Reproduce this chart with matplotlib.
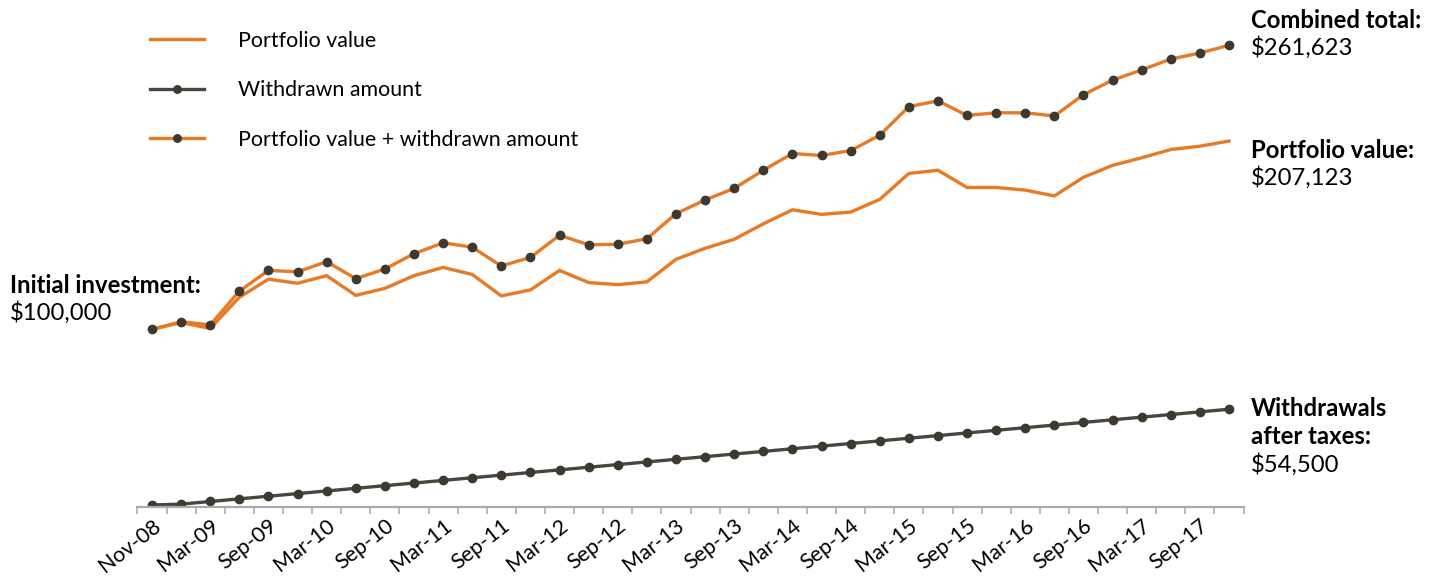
import matplotlib
matplotlib.use("Agg")
from matplotlib import pyplot as plt
import numpy as np

# quarterly observations, Nov-08 .. Feb-18
tick_labels = ["Nov-08", "Mar-09", "Sep-09", "Mar-10", "Sep-10", "Mar-11", "Sep-11",
               "Mar-12", "Sep-12", "Mar-13", "Sep-13", "Mar-14", "Sep-14", "Mar-15",
               "Sep-15", "Mar-16", "Sep-16", "Mar-17", "Sep-17"]

portfolio = [100000, 103800, 100500, 118200, 128500, 126200, 130500, 119300, 123300, 130500,
             135200, 131200, 119000, 122400, 133500, 126600, 125400, 127000, 139800, 146100,
             151200, 160000, 168000, 165400, 166700, 173900, 188700, 190500, 180700, 180700,
             179200, 175900, 186500, 193300, 197600, 202300, 204200, 207123]

withdrawn = [0, 500, 2000, 3500, 5000, 6500, 8000, 9500, 11000, 12500,
             14000, 15500, 17000, 18500, 20000, 21500, 23000, 24500, 26000, 27500,
             29000, 30500, 32000, 33500, 35000, 36500, 38000, 39500, 41000, 42500,
             44000, 45500, 47000, 48500, 50000, 51500, 53000, 54500]

combined = [p + w for p, w in zip(portfolio, withdrawn)]

ORANGE = "#E87A25"
DARK = "#4A463F"
DOT = "#3E3930"

plt.rcParams['font.family'] = ['Lato', 'DejaVu Sans']

fig = plt.figure(figsize=(14.41, 5.77), dpi=100)
ax = fig.add_axes([0.0954, 0.1213, 0.7676, 0.8562])

x = np.arange(len(portfolio))

l1, = ax.plot(x, portfolio, color=ORANGE, lw=2.4, solid_joinstyle='miter')
l2, = ax.plot(x, withdrawn, color=DARK, lw=2.4, marker='o', ms=6,
              mfc=DOT, mec=DOT)
l3, = ax.plot(x, combined, color=ORANGE, lw=2.4, marker='o', ms=6,
              mfc=DOT, mec=DOT, solid_joinstyle='miter')

ax.set_xlim(-0.5, len(x) - 0.5)
ax.set_ylim(-1140, 280000)

for s in ['top', 'right', 'left']:
    ax.spines[s].set_visible(False)
ax.spines['bottom'].set_color('#AAAAAA')
ax.spines['bottom'].set_linewidth(1.6)
ax.set_yticks([])

# tick marks between categories, labels every second category
ax.set_xticks(np.arange(-0.5, len(x), 1.0))
ax.set_xticklabels([])
ax.tick_params(axis='x', which='major', length=5, width=1.2, color='#AAAAAA')
ax.set_xticks(x[::2], minor=True)
ax.set_xticklabels(tick_labels, minor=True, rotation=38, ha='right', va='top',
                   rotation_mode='anchor', fontsize=15.5)
ax.tick_params(axis='x', which='minor', length=0, pad=6)

leg = ax.legend([l1, l2, l3],
                ["Portfolio value", "Withdrawn amount", "Portfolio value + withdrawn amount"],
                loc='upper left', bbox_to_anchor=(-0.0045, 1.0), frameon=False,
                fontsize=15.4, handlelength=2.5, handletextpad=1.63,
                labelspacing=1.38, borderaxespad=0.42, markerscale=0.9)

# annotations
bold = dict(fontsize=17.2, fontweight='bold', color='black')
reg = dict(fontsize=17.2, color='black')
fig.text(10 / 1441, 1 - 285 / 577, "Initial investment:", va='center', **bold)
fig.text(10 / 1441, 1 - 313 / 577, "$100,000", va='center', **reg)

rx = 1251 / 1441
fig.text(rx, 1 - 20 / 577, "Combined total:", va='center', **bold)
fig.text(rx, 1 - 48 / 577, "$261,623", va='center', **reg)
fig.text(rx, 1 - 150 / 577, "Portfolio value:", va='center', **bold)
fig.text(rx, 1 - 178 / 577, "$207,123", va='center', **reg)
fig.text(rx, 1 - 408 / 577, "Withdrawals", va='center', **bold)
fig.text(rx, 1 - 437 / 577, "after taxes:", va='center', **bold)
fig.text(rx, 1 - 465 / 577, "$54,500", va='center', **reg)

fig.savefig("out.png", dpi=100)
